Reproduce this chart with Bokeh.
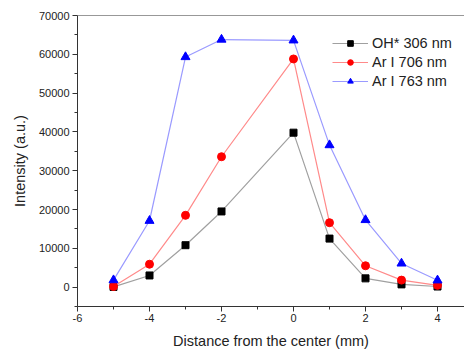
from bokeh.plotting import figure
from bokeh.models import Range1d, Span, Legend, LegendItem, FixedTicker
from bokeh.embed import file_html
from bokeh.resources import INLINE

x = [-5, -4, -3, -2, 0, 1, 2, 3, 4]
oh_306 = [50, 3000, 10800, 19500, 39800, 12500, 2250, 700, 150]
ar_706 = [150, 5900, 18500, 33600, 58800, 16600, 5500, 1800, 450]
ar_763 = [1800, 17100, 59300, 63800, 63600, 36600, 17300, 6100, 1750]

names = ["OH* 306 nm", "Ar I 706 nm", "Ar I 763 nm"]
x_ticks = [-6, -4, -2, 0, 2, 4]
y_ticks = [0, 10000, 20000, 30000, 40000, 50000, 60000, 70000]

p = figure(width=464, height=354, output_backend="svg", toolbar_location=None,
           x_range=Range1d(-6, 4.75), y_range=Range1d(-5000, 70000),
           min_border_left=77, min_border_right=0, min_border_top=15, min_border_bottom=48)
p.outline_line_color = None
p.grid.grid_line_color = None
p.background_fill_color = "white"

FONT = "Liberation Sans"
for ax in (p.xaxis[0], p.yaxis[0]):
    ax.major_label_text_font = FONT
    ax.major_label_text_font_size = "11px"
    ax.major_label_text_color = "#222222"
    ax.axis_label_text_font = FONT
    ax.axis_label_text_font_size = "14.5px"
    ax.axis_label_text_font_style = "normal"
    ax.axis_label_text_color = "#222222"
    ax.axis_line_color = "#333333"
    ax.major_tick_line_color = "#333333"
    ax.minor_tick_line_color = "#333333"
    ax.major_tick_out = 5
    ax.major_tick_in = 0
    ax.minor_tick_out = 3
    ax.minor_tick_in = 0

p.xaxis.axis_label = "Distance from the center (mm)"
p.yaxis.axis_label = "Intensity (a.u.)"
p.xaxis.ticker = FixedTicker(ticks=x_ticks, minor_ticks=[-5, -3, -1, 1, 3])
p.xaxis.major_label_overrides = {t: str(t) for t in x_ticks}
p.yaxis.ticker = FixedTicker(ticks=y_ticks,
                             minor_ticks=[-5000, 5000, 15000, 25000, 35000, 45000, 55000, 65000])
p.xaxis.major_label_standoff = 2
p.yaxis.major_label_standoff = 3
p.xaxis.axis_label_standoff = 8
p.yaxis.axis_label_standoff = 8

p.add_layout(Span(location=70000, dimension="width", line_color="#333333", line_width=1))

l1 = p.line(x, oh_306, line_color="#a0a0a0", line_width=1.2)
m1 = p.scatter(x, oh_306, marker="square", size=7, fill_color="black", line_color="black")
l2 = p.line(x, ar_706, line_color="#ff8a8a", line_width=1.2)
m2 = p.scatter(x, ar_706, marker="circle", size=8, fill_color="red", line_color="red")
l3 = p.line(x, ar_763, line_color="#9a9aff", line_width=1.2)
m3 = p.scatter(x, ar_763, marker="triangle", size=9, fill_color="blue", line_color="blue")

legend = Legend(items=[LegendItem(label=names[0], renderers=[l1, m1]),
                       LegendItem(label=names[1], renderers=[l2, m2]),
                       LegendItem(label=names[2], renderers=[l3, m3])],
                location=(255, 217), background_fill_alpha=0, border_line_color=None,
                label_text_font=FONT, label_text_font_size="14.5px", label_text_color="#222222",
                glyph_width=36, glyph_height=14, spacing=3, padding=0, margin=0,
                label_standoff=4)
p.add_layout(legend)

open("out.html", "w").write(file_html(p, INLINE))
